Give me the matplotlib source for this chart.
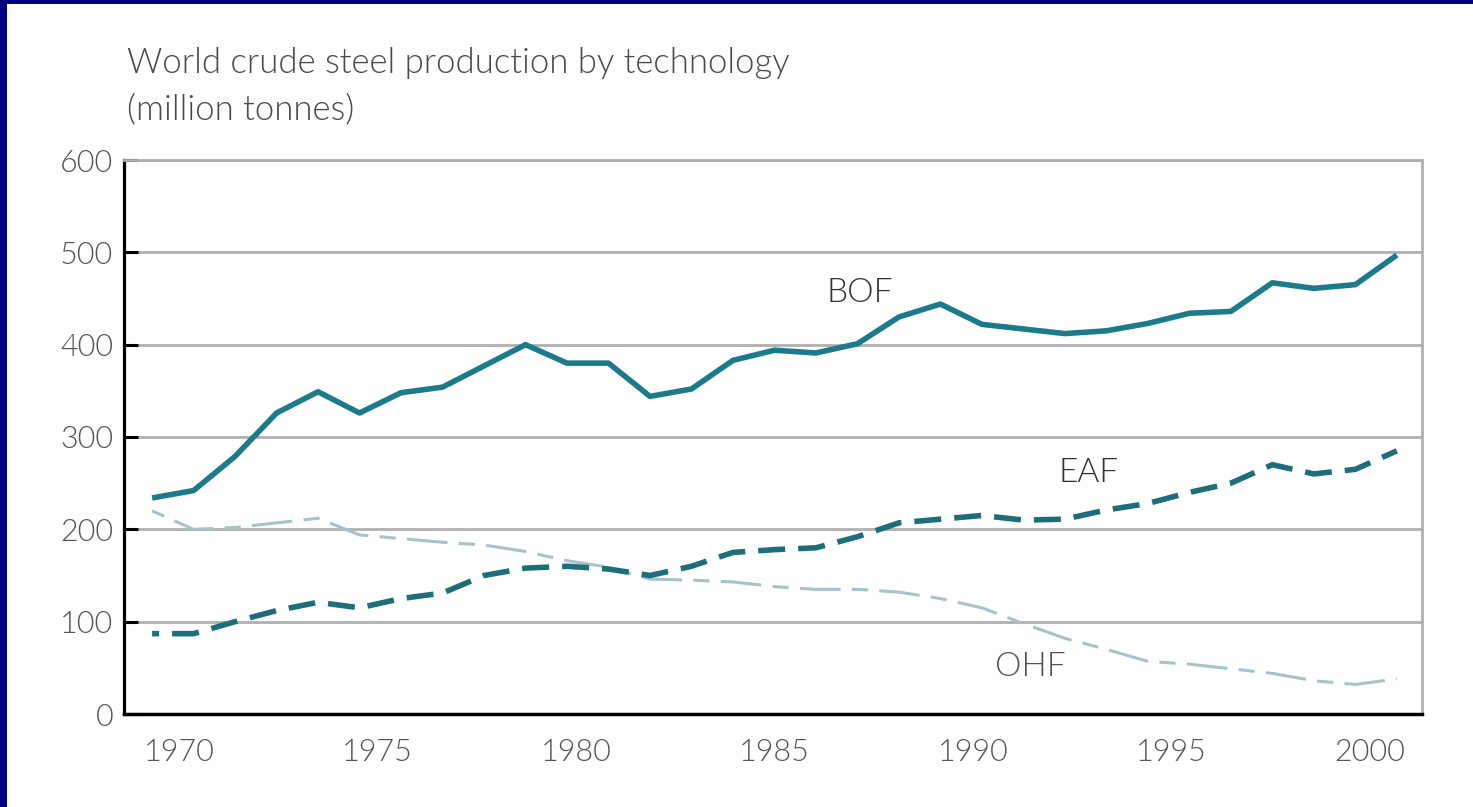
import matplotlib
matplotlib.use("Agg")
import matplotlib.pyplot as plt
from matplotlib.patches import Rectangle
import numpy as np

# ---- data ----
years = list(range(1970, 2001))
bof = [234, 242, 279, 326, 349, 326, 348, 354, 377, 400,
       380, 380, 344, 352, 383, 394, 391, 401, 430, 444,
       422, 417, 412, 415, 423, 434, 436, 467, 461, 465, 497]
eaf = [87, 87, 100, 112, 121, 115, 125, 131, 150, 158,
       160, 157, 150, 160, 175, 178, 180, 192, 207, 211,
       215, 210, 211, 221, 228, 240, 250, 270, 260, 265, 285]
ohf = [220, 200, 202, 207, 212, 194, 190, 186, 183, 176,
       166, 159, 146, 145, 143, 138, 135, 135, 132, 125,
       115, 98, 82, 70, 57, 54, 49, 44, 36, 32, 38]
x_tick_labels = ["1970", "1975", "1980", "1985", "1990", "1995", "2000"]
y_ticks = [0, 100, 200, 300, 400, 500, 600]
title_lines = ["World crude steel production by technology", "(million tonnes)"]
series_names = ["BOF", "EAF", "OHF"]

FONT = ["Lato", "DejaVu Sans"]
W, H = 1473, 807
fig = plt.figure(figsize=(W / 100, H / 100), dpi=100)
fig.patch.set_facecolor("white")

# navy frame (left and top)
navy = "#000080"
fig.patches.append(Rectangle((0, 0), 7 / W, 1, transform=fig.transFigure,
                             facecolor=navy, edgecolor="none", zorder=10))
fig.patches.append(Rectangle((0, 1 - 4 / H), 1, 4 / H, transform=fig.transFigure,
                             facecolor=navy, edgecolor="none", zorder=10))

ax = fig.add_axes([124.3 / W, (H - 714) / H, (1421.7 - 124.3) / W, (714 - 160) / H])
ax.set_xlim(1969.33, 2000.6)
ax.set_ylim(0, 600)

# grid
ax.set_yticks(y_ticks)
ax.yaxis.grid(True, color="#b0b0b0", linewidth=2.0)
ax.set_axisbelow(True)

# spines
for s in ["top", "right"]:
    ax.spines[s].set_color("#b0b0b0")
    ax.spines[s].set_linewidth(2.0)
ax.spines["left"].set_color("black")
ax.spines["left"].set_linewidth(2.3)
ax.spines["bottom"].set_color("black")
ax.spines["bottom"].set_linewidth(2.5)

# lines
ax.plot(years, ohf, color="#a6c4c8", linewidth=2.2,
        linestyle=(18, (13.3, 3.7, 5.3, 3.7)), zorder=3)
ax.plot(years, eaf, color="#1d6e7a", linewidth=4.0,
        linestyle=(3.6, (4.86, 2.34)), zorder=4)
ax.plot(years, bof, color="#1b7b8b", linewidth=4.0,
        solid_joinstyle="round", solid_capstyle="butt", zorder=5)

# ticks
ax.tick_params(axis="y", direction="in", length=10, width=2.2, color="black",
               pad=8, labelsize=22, labelcolor="#555555")
ax.set_yticklabels([str(v) for v in y_ticks], fontfamily=FONT, fontweight=300)
xpos = np.linspace(1970.65, 1999.35, len(x_tick_labels))
ax.set_xticks(xpos)
ax.set_xticklabels(x_tick_labels, fontfamily=FONT, fontweight=300)
ax.tick_params(axis="x", length=0, pad=17, labelsize=22, labelcolor="#555555")

# series labels
ax.text(1987.06, 456, series_names[0], fontsize=24, color="#333333",
        ha="center", va="center", fontfamily=FONT, fontweight=300)
ax.text(1992.58, 261, series_names[1], fontsize=24, color="#333333",
        ha="center", va="center", fontfamily=FONT, fontweight=300)
ax.text(1991.16, 51, series_names[2], fontsize=24, color="#555555",
        ha="center", va="center", fontfamily=FONT, fontweight=300)

# title
fig.text(127 / W, 1 - 73 / H, title_lines[0], fontsize=25, color="#4a4a4a",
         ha="left", va="baseline", fontfamily=FONT, fontweight=300)
fig.text(127 / W, 1 - 119 / H, title_lines[1], fontsize=25, color="#4a4a4a",
         ha="left", va="baseline", fontfamily=FONT, fontweight=300)

fig.savefig("out.png", dpi=100, facecolor="white")
